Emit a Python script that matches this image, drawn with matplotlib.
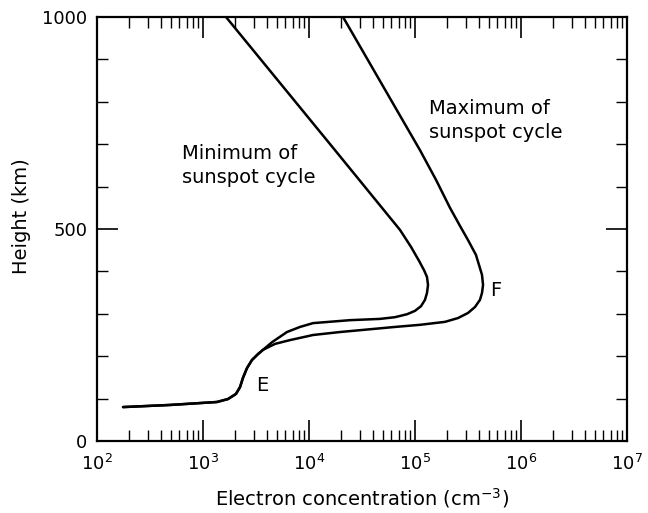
import matplotlib
matplotlib.use("Agg")
import matplotlib.pyplot as plt
from matplotlib.ticker import LogLocator, MultipleLocator, NullFormatter

plt.rcParams['font.family'] = ['DejaVu Sans']
plt.rcParams['mathtext.fontset'] = 'dejavusans'

# Shared lower part (E region): electron concentration (cm^-3) vs height (km)
common_conc = [176, 489, 1355, 1722, 2046, 2234, 2383, 2600, 2897, 3303, 3681]
common_height = [80, 85, 92, 99, 111, 127, 149, 172, 191, 205, 215]

# Minimum of sunspot cycle (continuing from the shared part)
min_conc = [4477, 6194, 8222, 10914, 24380, 46770, 64710, 84140, 100000, 114000,
            124200, 129700, 132700, 129700, 121600, 109100, 91620, 72110, 17580, 1648]
min_height = [233, 257, 269, 278, 285, 288, 292, 299, 307, 318,
              333, 349, 368, 387, 403, 425, 458, 498, 686, 1000]

# Maximum of sunspot cycle (continuing from the shared part)
max_conc = [4775, 6622, 10914, 19590, 32280, 64710, 111400, 191900, 254700, 316200,
            368100, 410200, 428500, 438500, 428500, 401800, 375800, 316200, 266100,
            213800, 157800, 111400, 20940]
max_height = [229, 238, 250, 257, 262, 269, 274, 281, 290, 302,
              316, 333, 349, 368, 392, 415, 439, 474, 507,
              550, 616, 686, 1000]

x_ticks = [1e2, 1e3, 1e4, 1e5, 1e6, 1e7]
y_ticks = [0, 500, 1000]

fig = plt.figure(figsize=(6.48, 5.13), dpi=100)
ax = fig.add_axes([97/648, 1 - 441/513, 530/648, 424/513])

style = dict(color='black', lw=1.8, solid_capstyle='round', solid_joinstyle='round')
ax.plot(common_conc + min_conc, common_height + min_height, **style)
ax.plot(common_conc + max_conc, common_height + max_height, **style)

ax.set_xscale('log')
ax.set_xlim(1e2, 1e7)
ax.set_ylim(0, 1000)
ax.set_xticks(x_ticks)
ax.xaxis.set_minor_locator(LogLocator(base=10, subs=range(2, 10)))
ax.xaxis.set_minor_formatter(NullFormatter())
ax.set_yticks(y_ticks)
ax.yaxis.set_minor_locator(MultipleLocator(100))

for s in ax.spines.values():
    s.set_linewidth(1.6)

ax.tick_params(which='major', direction='in', top=True, right=True, length=15, width=1.2, labelsize=13, pad=7)
ax.tick_params(which='minor', direction='in', top=True, right=True, length=8, width=1.0)
ax.tick_params(axis='x', which='major', pad=9)

ax.set_xlabel('Electron concentration (cm$^{-3}$)', fontsize=14)
ax.set_ylabel('Height (km)', fontsize=14)
ax.xaxis.set_label_coords(0.5, -(498 - 441) / 424, transform=ax.transAxes)
ax.yaxis.set_label_coords(-(97 - 22) / 530, (441 - 216) / 424, transform=ax.transAxes)
ax.xaxis.label.set_va('center')
ax.yaxis.label.set_va('center')

ax.annotate('Minimum of\nsunspot cycle', xy=(182, 513 - 183), xycoords='figure pixels',
            fontsize=14, ha='left', va='baseline', linespacing=1.35)
ax.annotate('Maximum of\nsunspot cycle', xy=(429, 513 - 138), xycoords='figure pixels',
            fontsize=14, ha='left', va='baseline', linespacing=1.35)
ax.text(3.2e3, 132, 'E', fontsize=14, ha='left', va='center')
ax.text(5.1e5, 354, 'F', fontsize=14, ha='left', va='center')

fig.savefig('out.png', dpi=100)
